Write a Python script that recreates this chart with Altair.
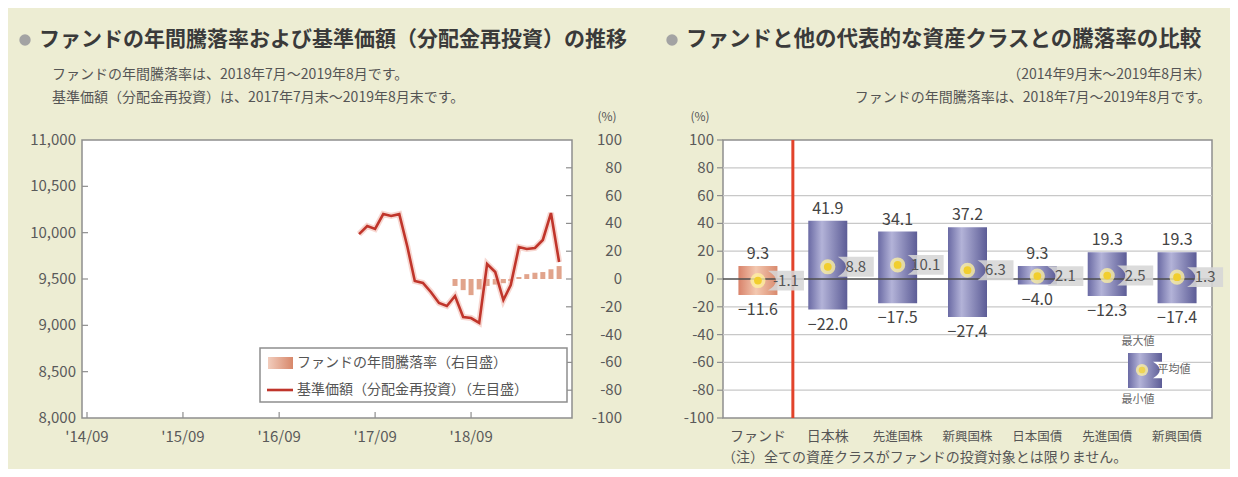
import altair as alt
import pandas as pd

# ---------------- data ----------------
nav_dates = ["2017-07-31", "2017-08-31", "2017-09-30", "2017-10-31", "2017-11-30", "2017-12-31",
             "2018-01-31", "2018-02-28", "2018-03-31", "2018-04-30", "2018-05-31", "2018-06-30",
             "2018-07-31", "2018-08-31", "2018-09-30", "2018-10-31", "2018-11-30", "2018-12-31",
             "2019-01-31", "2019-02-28", "2019-03-31", "2019-04-30", "2019-05-31", "2019-06-30",
             "2019-07-31", "2019-08-31"]
nav_values = [9985, 10072, 10040, 10201, 10180, 10200, 9845, 9478, 9457, 9360, 9241, 9209,
              9317, 9090, 9079, 9026, 9662, 9575, 9273, 9435, 9845, 9824, 9835, 9921, 10212, 9683]

ret_dates = ["2018-07-31", "2018-08-31", "2018-09-30", "2018-10-31", "2018-11-30", "2018-12-31",
             "2019-01-31", "2019-02-28", "2019-03-31", "2019-04-30", "2019-05-31", "2019-06-30",
             "2019-07-31", "2019-08-31"]
ret_values = [-5.0, -8.0, -11.6, -7.5, -5.0, -4.0, -3.0, -1.5, 1.5, 3.5, 4.5, 5.0, 7.0, 9.3]

x_tick_dates = ["2014-09-30", "2015-09-30", "2016-09-30", "2017-09-30", "2018-09-30"]
x_tick_labels = ["'14/09", "'15/09", "'16/09", "'17/09", "'18/09"]

price_ticks = [11000, 10500, 10000, 9500, 9000, 8500, 8000]
price_tick_labels = ["11,000", "10,500", "10,000", "9,500", "9,000", "8,500", "8,000"]

pct_ticks = [100, 80, 60, 40, 20, 0, -20, -40, -60, -80, -100]
pct_tick_labels = ["100", "80", "60", "40", "20", "0", "-20", "-40", "-60", "-80", "-100"]

asset_classes = ["ファンド", "日本株", "先進国株", "新興国株", "日本国債", "先進国債", "新興国債"]
max_returns = [9.3, 41.9, 34.1, 37.2, 9.3, 19.3, 19.3]
min_returns = [-11.6, -22.0, -17.5, -27.4, -4.0, -12.3, -17.4]
mean_returns = [-1.1, 8.8, 10.1, 6.3, 2.1, 2.5, 1.3]

# ---------------- tables ----------------
nav_df = pd.DataFrame({"date": nav_dates, "nav": nav_values})
ret_df = pd.DataFrame({"date": ret_dates, "ret": ret_values})
xt_df = pd.DataFrame({"date": x_tick_dates, "label": x_tick_labels})
pt_df = pd.DataFrame({"v": price_ticks, "label": price_tick_labels})
ct_df = pd.DataFrame({"v": pct_ticks, "label": pct_tick_labels})
cls_df = pd.DataFrame({"cat": asset_classes, "hi": max_returns, "lo": min_returns, "avg": mean_returns})
one = pd.DataFrame({"k": [0]})

# ---------------- layout constants ----------------
W, H = 1222, 461
BG = "#EDEDD3"
FONT = "Noto Sans CJK JP"
LX0, LX1 = 74, 564
RX0, RX1 = 715, 1204
PY0, PY1 = 132, 410
STEP = (RX1 - RX0) / len(asset_classes)
AXC = "#5A5A5A"

time_scale = alt.Scale(type="utc",
                       domain=[alt.DateTime(year=2014, month=9, date=30, utc=True),
                               alt.DateTime(year=2019, month=9, date=30, utc=True)],
                       range=[LX0, LX1])
price_scale = alt.Scale(domain=[8000, 11000], range=[PY1, PY0], zero=False, nice=False)
pct_scale_l = alt.Scale(domain=[-100, 100], range=[PY1, PY0], zero=False, nice=False)
pct_scale_r = alt.Scale(domain=[-100, 100], range=[PY1, PY0], zero=False, nice=False)
cat_scale = alt.Scale(type="band", domain=asset_classes, range=[RX0, RX1], paddingInner=0, paddingOuter=0)

xT = alt.X("date:T", scale=time_scale, axis=None)
xC = alt.X("cat:N", scale=cat_scale, axis=None, sort=asset_classes)


def lin_grad(stops):
    return {"gradient": "linear", "x1": 0, "x2": 1, "y1": 0, "y2": 0,
            "stops": [{"offset": o, "color": c} for o, c in stops]}


orange_grad = lin_grad([(0, "#D8826A"), (0.45, "#F3C8B0"), (1, "#D98A6E")])
blue_grad = lin_grad([(0, "#6A6AA4"), (0.35, "#B3B3D8"), (1, "#5C5C96")])
salmon_grad = lin_grad([(0, "#F2CDBD"), (1, "#D7876A")])


def label(txt, x, y, size=14, align="left", weight="normal", color="#555555"):
    return alt.Chart(one).mark_text(text=txt, align=align, baseline="middle", fontSize=size,
                                    fontWeight=weight, color=color, font=FONT).encode(
        x=alt.value(x), y=alt.value(y))


# ---------------- frames ----------------
frames = alt.layer(
    alt.Chart(one).mark_rect(fill="white", stroke="#8E8E8E", strokeWidth=1.5).encode(
        x=alt.value(LX0), x2=alt.value(LX1), y=alt.value(PY0), y2=alt.value(PY1)),
    alt.Chart(one).mark_rect(fill="white", stroke="#8E8E8E", strokeWidth=1.5).encode(
        x=alt.value(RX0), x2=alt.value(RX1), y=alt.value(PY0), y2=alt.value(PY1)),
)

# ---------------- left panel ----------------
yPct = alt.Y("ret:Q", scale=pct_scale_l, axis=None)
left_pct = alt.layer(
    alt.Chart(ret_df).mark_bar(size=5, color="#DE9A80", opacity=0.9).encode(
        x=xT, y=yPct, y2=alt.datum(0)),
    alt.Chart(ct_df).mark_text(align="right", baseline="middle", fontSize=15, color=AXC, font=FONT).encode(
        y=alt.Y("v:Q", scale=pct_scale_l, axis=None), x=alt.value(614), text="label:N"),
    alt.Chart(ct_df).transform_filter("abs(datum.v) < 100").mark_rule(color="#8E8E8E", strokeWidth=1.2).encode(
        y=alt.Y("v:Q", scale=pct_scale_l, axis=None), x=alt.value(LX1 - 6), x2=alt.value(LX1)),
)

yNav = alt.Y("nav:Q", scale=price_scale, axis=None)
left_price = alt.layer(
    alt.Chart(nav_df).mark_line(color="#F0B0A4", strokeWidth=6, opacity=0.5).encode(x=xT, y=yNav),
    alt.Chart(nav_df).mark_line(color="#C0352B", strokeWidth=2.6).encode(x=xT, y=yNav),
    alt.Chart(pt_df).mark_text(align="right", baseline="middle", fontSize=15, color=AXC, font=FONT).encode(
        y=alt.Y("v:Q", scale=price_scale, axis=None), x=alt.value(LX0 - 6), text="label:N"),
    alt.Chart(pt_df).transform_filter("datum.v > 8000 && datum.v < 11000").mark_rule(
        color="#8E8E8E", strokeWidth=1.2).encode(
        y=alt.Y("v:Q", scale=price_scale, axis=None), x=alt.value(LX0), x2=alt.value(LX0 + 6)),
    alt.Chart(xt_df).mark_text(align="center", baseline="middle", fontSize=15, color=AXC, font=FONT).encode(
        x=xT, y=alt.value(PY1 + 19), text="label:N"),
    alt.Chart(xt_df).mark_rule(color="#8E8E8E", strokeWidth=1.2).encode(
        x=xT, y=alt.value(PY1 - 6), y2=alt.value(PY1)),
)

left = alt.layer(left_pct, left_price).resolve_scale(y="independent")

# ---------------- right panel ----------------
yR = lambda f: alt.Y(f, scale=pct_scale_r, axis=None)
notch = "M-1,-0.55L1,-0.55L1,0.55L-1,0.55Q-0.1,0,-1,-0.55Z"

right = alt.layer(
    alt.Chart(ct_df).transform_filter("datum.v != 0 && abs(datum.v) < 100").mark_rule(
        color="#C8C8C8", strokeWidth=1.3).encode(y=yR("v:Q"), x=alt.value(RX0), x2=alt.value(RX1)),
    alt.Chart(ct_df).mark_text(align="right", baseline="middle", fontSize=15, color=AXC, font=FONT).encode(
        y=yR("v:Q"), x=alt.value(RX0 - 9), text="label:N"),
    alt.Chart(ct_df).mark_rule(color="#8E8E8E", strokeWidth=1.2).encode(
        y=yR("v:Q"), x=alt.value(RX0 - 6), x2=alt.value(RX0)),
    alt.Chart(cls_df).transform_filter("datum.cat == 'ファンド'").mark_bar(size=39, fill=orange_grad).encode(
        x=xC, y=yR("hi:Q"), y2="lo:Q"),
    alt.Chart(cls_df).transform_filter("datum.cat != 'ファンド'").mark_bar(size=39, fill=blue_grad).encode(
        x=xC, y=yR("hi:Q"), y2="lo:Q"),
    alt.Chart(one).mark_rule(color="#4E4E4E", strokeWidth=1.6).encode(
        y=alt.Y(datum=0, type="quantitative", scale=pct_scale_r, axis=None), x=alt.value(RX0), x2=alt.value(RX1)),
    alt.Chart(one).mark_rule(color="#E2432B", strokeWidth=3, xOffset=-STEP / 2).encode(
        x=alt.X(datum="日本株", type="nominal", scale=cat_scale, axis=None), y=alt.value(PY0), y2=alt.value(PY1)),
    alt.Chart(cls_df).mark_text(dy=-12, fontSize=16, color="#444444", font=FONT, baseline="middle").encode(
        x=xC, y=yR("hi:Q"), text=alt.Text("hi:Q", format=".1f")),
    alt.Chart(cls_df).mark_text(dy=15, fontSize=16, color="#444444", font=FONT, baseline="middle").encode(
        x=xC, y=yR("lo:Q"), text=alt.Text("lo:Q", format=".1f")),
    alt.Chart(cls_df).mark_point(shape=notch, filled=True, size=1296, color="#D6D6D6", opacity=0.88,
                                 strokeWidth=0, xOffset=28).encode(x=xC, y=yR("avg:Q")),
    alt.Chart(cls_df).transform_calculate(
        ml="replace(format(datum.avg, '.1f'), '\u2212', '-')").mark_text(
        dx=28, fontSize=15, color="#555555", font=FONT, baseline="middle").encode(
        x=xC, y=yR("avg:Q"), text="ml:N"),
    alt.Chart(cls_df).mark_circle(size=230, color="#FFF3A0", opacity=0.75).encode(x=xC, y=yR("avg:Q")),
    alt.Chart(cls_df).mark_circle(size=60, color="#F1CE2E", opacity=1).encode(x=xC, y=yR("avg:Q")),
    alt.Chart(cls_df).mark_text(color="#555555", font=FONT, baseline="middle").encode(
        x=xC, y=alt.value(PY1 + 19), text="cat:N",
        size=alt.condition("datum.cat == 'ファンド' || datum.cat == '日本株'", alt.value(14), alt.value(12.5))),
)

# ---------------- legends & texts ----------------
legend_left = alt.layer(
    alt.Chart(one).mark_rect(fill="white", stroke="#8E8E8E", strokeWidth=1.5).encode(
        x=alt.value(252), x2=alt.value(559), y=alt.value(340), y2=alt.value(394)),
    alt.Chart(one).mark_rect(fill=salmon_grad).encode(
        x=alt.value(260), x2=alt.value(285), y=alt.value(349), y2=alt.value(361)),
    alt.Chart(one).mark_rule(color="#C0352B", strokeWidth=2.6).encode(
        x=alt.value(259), x2=alt.value(285), y=alt.value(382)),
    label("ファンドの年間騰落率（右目盛）", 289, 355, size=14),
    label("基準価額（分配金再投資）（左目盛）", 289, 382, size=14),
)

legend_right = alt.layer(
    alt.Chart(one).mark_rect(fill=blue_grad).encode(
        x=alt.value(1120), x2=alt.value(1154), y=alt.value(345), y2=alt.value(380)),
    alt.Chart(one).mark_point(shape=notch, filled=True, size=900, color="white", opacity=1,
                              strokeWidth=0).encode(x=alt.value(1160), y=alt.value(362)),
    alt.Chart(one).mark_circle(size=150, color="#FFF3A0", opacity=0.75).encode(x=alt.value(1134), y=alt.value(362)),
    alt.Chart(one).mark_circle(size=45, color="#F1CE2E").encode(x=alt.value(1134), y=alt.value(362)),
    label("平均値", 1166, 362, size=11, align="center", color="#666666"),
    label("最大値", 1130, 334, size=11, align="center", color="#666666"),
    label("最小値", 1130, 392, size=11, align="center", color="#666666"),
)

texts = alt.layer(
    alt.Chart(one).mark_circle(size=130, color="#A3A3A3", opacity=1).encode(x=alt.value(17), y=alt.value(32)),
    label("ファンドの年間騰落率および基準価額（分配金再投資）の推移", 31, 32, size=21, weight="bold", color="#3A3A3A"),
    label("ファンドの年間騰落率は、2018年7月～2019年8月です。", 44, 67, size=14),
    label("基準価額（分配金再投資）は、2017年7月末～2019年8月末です。", 44, 90, size=14),
    label("(%)", 599, 109, size=12, align="center"),
    alt.Chart(one).mark_circle(size=130, color="#A3A3A3", opacity=1).encode(x=alt.value(664), y=alt.value(32)),
    label("ファンドと他の代表的な資産クラスとの騰落率の比較", 678, 32, size=21.5, weight="bold", color="#3A3A3A"),
    label("（2014年9月末～2019年8月末）", 1203, 67, size=14, align="right"),
    label("ファンドの年間騰落率は、2018年7月～2019年8月です。", 1203, 90, size=14, align="right"),
    label("(%)", 692, 109, size=12, align="center"),
    label("（注）全ての資産クラスがファンドの投資対象とは限りません。", 714, 450, size=14),
)

chart = alt.layer(frames, left, right, legend_left, legend_right, texts).resolve_scale(
    x="independent", y="independent"
).properties(
    width=W, height=H, padding=0, background=BG,
    autosize=alt.AutoSizeParams(type="none"),
).configure_view(strokeWidth=0, stroke="transparent")

chart.save("out.html", embed_options={"renderer": "svg", "actions": False})
